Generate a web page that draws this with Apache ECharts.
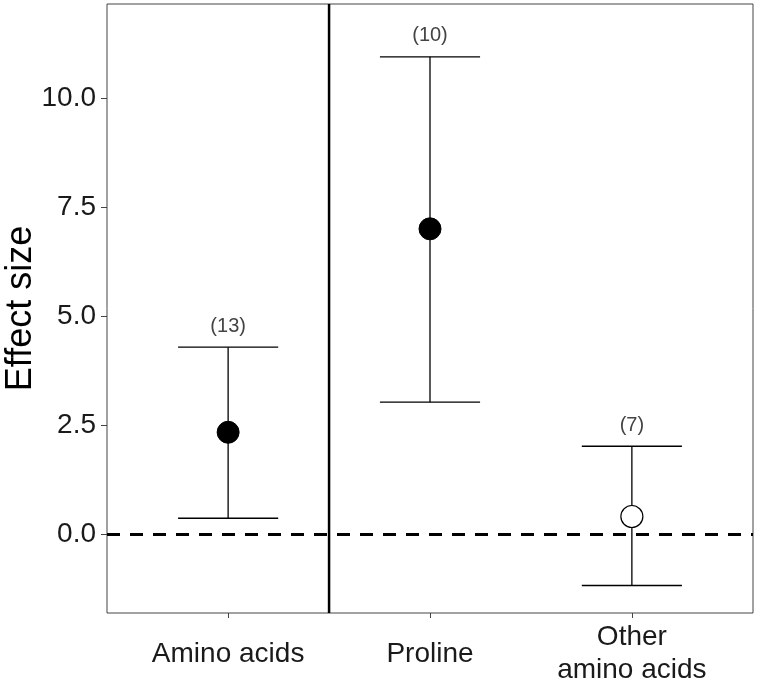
<!DOCTYPE html>
<html>
<head>
<meta charset="utf-8">
<script src="https://cdn.jsdelivr.net/npm/echarts@6/dist/echarts.min.js"></script>
<style>
html, body { margin: 0; padding: 0; background: #fff; }
#main { width: 758px; height: 687px; }
</style>
</head>
<body>
<div id="main"></div>
<script>
// data
var categories = ['Amino acids', 'Proline', 'Other\namino acids'];
var xPos = [1, 2, 3];
var means = [2.34, 7.0, 0.41];
var lower = [0.37, 3.03, -1.17];
var upper = [4.29, 10.94, 2.02];
var counts = ['(13)', '(10)', '(7)'];
var filled = [true, true, false];
var yTicks = [0, 2.5, 5, 7.5, 10];
var dividerX = 1.5;

var myChart = echarts.init(document.getElementById('main'));

var barData = [];
var pointData = [];
for (var i = 0; i < xPos.length; i++) {
    barData.push([xPos[i], lower[i], upper[i], counts[i]]);
    pointData.push({
        value: [xPos[i], means[i]],
        itemStyle: filled[i]
            ? {color: '#000', borderColor: '#000', borderWidth: 1, opacity: 1}
            : {color: '#fff', borderColor: '#000', borderWidth: 1.2, opacity: 1}
    });
}

var option = {
    animation: false,
    grid: {
        left: 107,
        right: 5,
        top: 4,
        bottom: 74,
        containLabel: false,
        outerBoundsMode: 'none',
        show: true,
        borderColor: '#444',
        borderWidth: 1
    },
    xAxis: {
        type: 'value',
        min: 0.4,
        max: 3.6,
        splitLine: {show: false},
        axisLine: {show: false, onZero: false},
        axisTick: {
            show: true,
            length: 5,
            lineStyle: {color: '#444'},
            customValues: xPos
        },
        axisLabel: {
            customValues: xPos,
            formatter: function (v) {
                return categories[xPos.indexOf(v)] || '';
            },
            fontFamily: 'Liberation Sans',
            fontSize: 28,
            color: '#1a1a1a',
            verticalAlign: 'middle',
            align: 'center',
            lineHeight: 33,
            margin: 41
        }
    },
    yAxis: {
        type: 'value',
        min: -1.8,
        max: 12.15,
        name: 'Effect size',
        nameLocation: 'middle',
        nameGap: 68,
        nameMoveOverlap: false,
        nameTextStyle: {
            fontFamily: 'Liberation Sans',
            fontSize: 36,
            color: '#000'
        },
        splitLine: {show: false},
        axisLine: {show: false, onZero: false},
        axisTick: {
            show: true,
            length: 6,
            lineStyle: {color: '#444'},
            customValues: yTicks
        },
        axisLabel: {
            customValues: yTicks,
            formatter: function (v) { return v.toFixed(1); },
            fontFamily: 'Liberation Sans',
            fontSize: 28,
            color: '#1a1a1a',
            margin: 11
        }
    },
    series: [
        {
            type: 'line',
            data: [[0.4, 0], [3.6, 0]],
            symbol: 'none',
            silent: true,
            lineStyle: {color: '#000', width: 3, type: [13, 10]},
            z: 1
        },
        {
            type: 'line',
            data: [[dividerX, -1.8], [dividerX, 12.15]],
            symbol: 'none',
            silent: true,
            lineStyle: {color: '#000', width: 2.5},
            z: 1
        },
        {
            type: 'custom',
            data: barData,
            z: 2,
            renderItem: function (params, api) {
                var x = api.value(0);
                var lo = api.coord([x, api.value(1)]);
                var hi = api.coord([x, api.value(2)]);
                var half = api.size([0.248, 0])[0];
                var style = {stroke: '#000', lineWidth: 1.3};
                return {
                    type: 'group',
                    children: [
                        {type: 'line', shape: {x1: lo[0], y1: lo[1], x2: hi[0], y2: hi[1]}, style: style},
                        {type: 'line', shape: {x1: hi[0] - half, y1: hi[1], x2: hi[0] + half, y2: hi[1]}, style: style},
                        {type: 'line', shape: {x1: lo[0] - half, y1: lo[1], x2: lo[0] + half, y2: lo[1]}, style: style},
                        {
                            type: 'text',
                            style: {
                                text: barData[params.dataIndex][3],
                                x: hi[0],
                                y: hi[1] - 21,
                                align: 'center',
                                verticalAlign: 'middle',
                                fontFamily: 'Liberation Sans',
                                fontSize: 20,
                                fill: '#444'
                            }
                        }
                    ]
                };
            }
        },
        {
            type: 'scatter',
            data: pointData,
            symbol: 'circle',
            symbolSize: 22,
            z: 3
        }
    ]
};

myChart.setOption(option);
</script>
</body>
</html>
